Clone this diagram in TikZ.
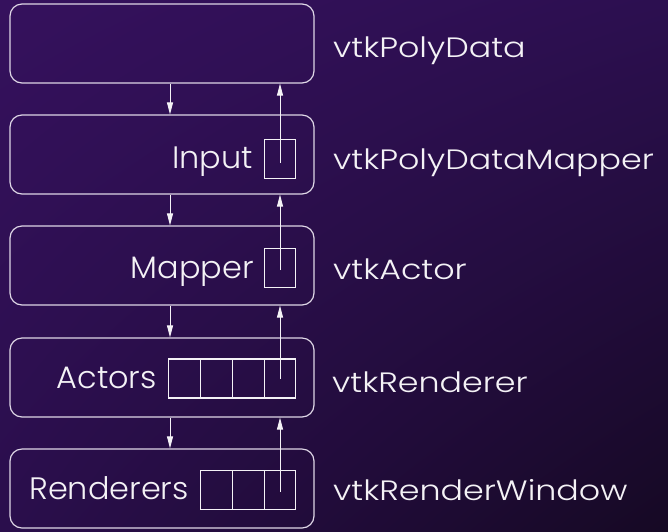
\documentclass[tikz,border=0pt]{standalone}
\usepackage{fontspec}
\setmainfont{Poppins}[UprightFont=* Light]
\newfontfamily\wideface{Poppins}[UprightFont=* Light, FakeStretch=1.19]
\newfontfamily\slotface{Poppins}[UprightFont=* Light, FakeStretch=1.03]
\usetikzlibrary{arrows.meta,shadings}

\definecolor{bgUL}{RGB}{53,17,93}
\definecolor{bgUR}{RGB}{44,15,80}
\definecolor{bgLL}{RGB}{42,14,76}
\definecolor{bgLR}{RGB}{22,9,36}
\definecolor{frame}{RGB}{222,214,230}
\definecolor{ink}{RGB}{244,242,246}

\tikzset{
  layer/.style={draw=frame, line width=1.2pt, rounded corners=12pt,
    minimum width=304pt, minimum height=79pt, inner sep=0pt},
  cell/.style={draw=ink, line width=1.1pt, minimum width=31.75pt,
    minimum height=39pt, inner sep=0pt, outer sep=0pt},
  flow/.style={draw=ink, line width=0.9pt, -{Triangle[length=12pt,width=6pt]}},
  classname/.style={text=ink, font=\wideface\fontsize{28}{30}\selectfont, inner sep=0pt},
  slotname/.style={text=ink, font=\slotface\fontsize{31}{33}\selectfont, inner sep=0pt},
}

\begin{document}
\begin{tikzpicture}[x=1pt, y=-1pt]
  % background
  \shade[upper left=bgUL, upper right=bgUR, lower left=bgLL, lower right=bgLR]
    (0,0) rectangle (668,531);
  \useasboundingbox (0,0) rectangle (668,531);

  % pipeline objects
  \node[layer] (pd)  at (162,43.5)  {};
  \node[layer] (map) at (162,154.5) {};
  \node[layer] (act) at (162,265.5) {};
  \node[layer] (ren) at (162,377.5) {};
  \node[layer] (win) at (162,488.5) {};

  % reference slots
  \node[cell] (inp) at (280,159) {};
  \node[cell] (mpr) at (280,268) {};

  \node[cell] (ac4) at (280,378.5) {};
  \node[cell, anchor=east] (ac3) at (ac4.west) {};
  \node[cell, anchor=east] (ac2) at (ac3.west) {};
  \node[cell, anchor=east] (ac1) at (ac2.west) {};

  \node[cell] (rn3) at (280,490) {};
  \node[cell, anchor=east] (rn2) at (rn3.west) {};
  \node[cell, anchor=east] (rn1) at (rn2.west) {};

  % slot names
  \node[slotname, anchor=base east] (tinp) at (253,168) {Input};
  \node[slotname, anchor=base east] (tmpr) at (254,278) {Mapper};
  \node[slotname, anchor=base east] (tact) at (157,388) {Actors};
  \node[slotname, anchor=base east] (tren) at (189,499) {Renderers};

  % class names
  \node[classname, anchor=base west] (c1) at (333,57)  {vtkPolyData};
  \node[classname, anchor=base west] (c2) at (333,169) {vtkPolyDataMapper};
  \node[classname, anchor=base west] (c3) at (333,279) {vtkActor};
  \node[classname, anchor=base west] (c4) at (332,392) {vtkRenderer};
  \node[classname, anchor=base west] (c5) at (333,500) {vtkRenderWindow};

  % downward links
  \coordinate (dn) at (170,0);
  \draw[flow] (pd.south -| dn)  -- (map.north -| dn);
  \draw[flow] (map.south -| dn) -- (act.north -| dn);
  \draw[flow] (act.south -| dn) -- (ren.north -| dn);
  \draw[flow] (ren.south -| dn) -- (win.north -| dn);

  % upward references
  \draw[flow] ([yshift=-4pt]inp.center) -- (inp.center |- pd.south);
  \draw[flow] ([yshift=-2pt]mpr.center) -- (mpr.center |- map.south);
  \draw[flow] (ac4.center) -- (ac4.center |- act.south);
  \draw[flow] ([yshift=-2pt]rn3.center) -- (rn3.center |- ren.south);
\end{tikzpicture}
\end{document}
